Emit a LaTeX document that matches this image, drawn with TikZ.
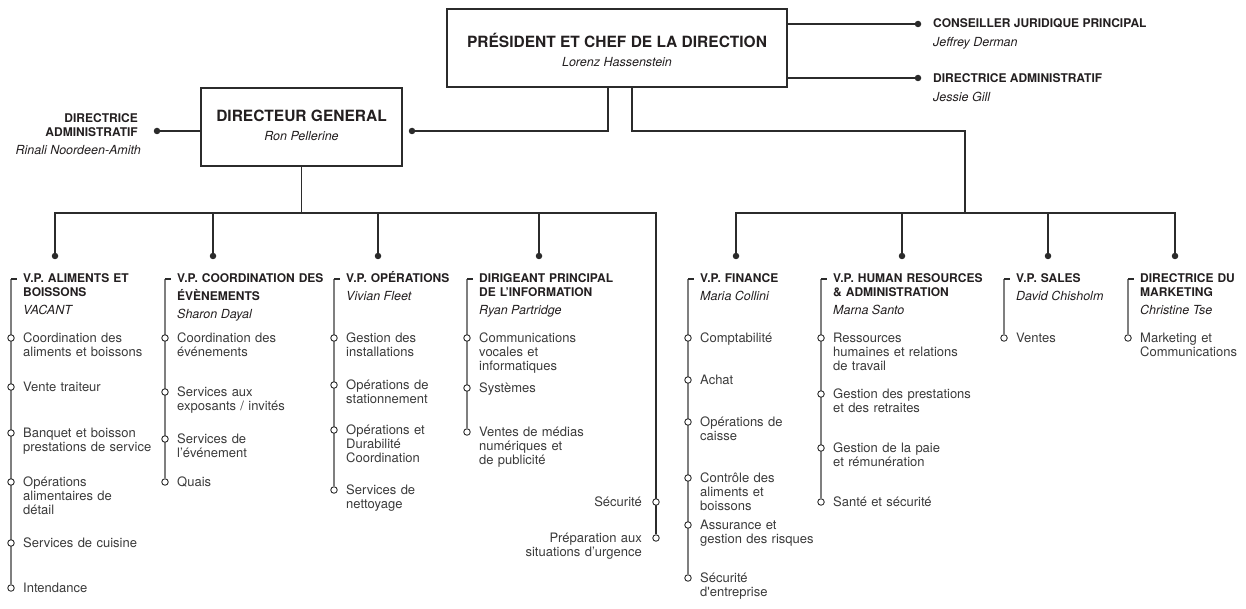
\documentclass[tikz,border=0pt]{standalone}
\usepackage{fontspec}
\setmainfont{TeX Gyre Heros}[Ligatures=TeXOff]
\usepackage{tikz}
\usetikzlibrary{positioning,backgrounds}

\definecolor{tratto}{HTML}{2B2B2B}
\definecolor{grigio}{HTML}{7F7F7F}
\definecolor{testo}{HTML}{231F20}
\definecolor{testovoce}{HTML}{3A3A3A}

\tikzset{
    riquadro/.style={draw=tratto, line width=1.3pt, minimum height=78pt, inner sep=0pt},
    titolo/.style={anchor=base, inner sep=0pt, text=testo, font=\bfseries\fontsize{15.5}{18}\selectfont},
    nomebox/.style={anchor=base, inner sep=0pt, text=testo, font=\itshape\fontsize{12.5}{14}\selectfont},
    etichetta/.style={inner sep=0pt, align=left, text=testo, font=\bfseries\fontsize{12}{14}\selectfont},
    nome/.style={inner sep=0pt, text=testo, font=\itshape\fontsize{12.5}{14}\selectfont},
    testata/.style={etichetta, text width=170pt, anchor=base west, xshift=12pt, yshift=-3.5pt},
    voce/.style={inner sep=0pt, text width=170pt, text=testovoce, font=\fontsize{13}{14}\selectfont},
    vocedx/.style={voce, align=left, anchor=base west, xshift=12pt, yshift=-4.5pt},
    vocesx/.style={voce, align=right, anchor=base east, xshift=-14pt, yshift=-4.5pt},
    punto/.style={circle, fill=tratto, minimum size=6.5pt, inner sep=0pt},
    anello/.style={circle, draw=tratto, fill=white, line width=0.9pt, minimum size=6.5pt, inner sep=0pt},
    connettore/.style={draw=tratto, line width=1.2pt},
    colonna/.style={draw=grigio, line width=1.3pt},
    tacca/.style={draw=tratto, line width=1.6pt}
}

\begin{document}
\begin{tikzpicture}[x=1pt, y=-1pt]
    \useasboundingbox (0,0) rectangle (1246,609);

    % vertice
    \node[riquadro, minimum width=340pt] (pres) at (617,48) {};
    \node[titolo] (presT) at (617,47.5) {PRÉSIDENT ET CHEF DE LA DIRECTION};
    \node[nomebox] (presN) at (617,66.5) {Lorenz Hassenstein};

    \node[punto] (jur) at (918,24) {};
    \node[etichetta, anchor=base west] (jurT) at (933,27.5) {CONSEILLER JURIDIQUE PRINCIPAL};
    \node[nome, below=19pt of jurT.base west, anchor=base west] (jurN) {Jeffrey Derman};
    \node[punto] (adm) at (918,78) {};
    \node[etichetta, anchor=base west] (admT) at (933,83) {DIRECTRICE ADMINISTRATIF};
    \node[nome, below=19pt of admT.base west, anchor=base west] (admN) {Jessie Gill};

    \node[riquadro, minimum width=201pt] (dg) at (301.5,127) {};
    \node[titolo] (dgT) at (301.5,121.5) {DIRECTEUR GENERAL};
    \node[nomebox] (dgN) at (301.5,140.5) {Ron Pellerine};

    \node[punto] (dgL) at (157,131) {};
    \node[punto] (dgR) at (412,131) {};
    \node[etichetta, text width=120pt, align=right, anchor=base east] (dgLT) at (138,122.5) {DIRECTRICE\\ADMINISTRATIF};
    \node[nome, anchor=base east] (dgLN) at (141,154.5) {Rinali Noordeen-Amith};

    \coordinate (p1) at ([xshift=-9pt]pres.south);
    \coordinate (p2) at ([xshift=15pt]pres.south);
    \coordinate (bL) at (656,213);
    \coordinate (bR) at (965,213);

    % punti sopra le colonne
    \node[punto] (d1) at (55,256) {};
    \node[punto] (d2) at (213,256) {};
    \node[punto] (d3) at (378,256) {};
    \node[punto] (d4) at (539,256) {};
    \node[punto] (d5) at (736,256) {};
    \node[punto] (d6) at (902,256) {};
    \node[punto] (d7) at (1048,256) {};
    \node[punto] (d8) at (1175,256) {};

    % aliments et boissons
    \coordinate (t1) at (11,279);
    \node[testata] (h1) at (t1) {V.P. ALIMENTS ET\\BOISSONS};
    \node[nome, below=18pt of h1.south west, anchor=base west] (n1) {VACANT};
    \node[anello] (r11) at (11,338) {};
    \node[vocedx] (v11) at (r11) {Coordination des\\aliments et boissons};
    \node[anello] (r12) at (11,387) {};
    \node[vocedx] (v12) at (r12) {Vente traiteur};
    \node[anello] (r13) at (11,433) {};
    \node[vocedx] (v13) at (r13) {Banquet et boisson\\prestations de service};
    \node[anello] (r14) at (11,482) {};
    \node[vocedx] (v14) at (r14) {Opérations\\alimentaires de\\détail};
    \node[anello] (r15) at (11,543) {};
    \node[vocedx] (v15) at (r15) {Services de cuisine};
    \node[anello] (r16) at (11,588) {};
    \node[vocedx] (v16) at (r16) {Intendance};

    % coordination des evenements
    \coordinate (t2) at (165,279);
    \node[testata] (h2) at (t2) {V.P. COORDINATION DES\\[4pt]ÉVÈNEMENTS};
    \node[nome, below=18pt of h2.south west, anchor=base west] (n2) {Sharon Dayal};
    \node[anello] (r21) at (165,338) {};
    \node[vocedx] (v21) at (r21) {Coordination des\\événements};
    \node[anello] (r22) at (165,392) {};
    \node[vocedx] (v22) at (r22) {Services aux\\exposants / invités};
    \node[anello] (r23) at (165,439) {};
    \node[vocedx] (v23) at (r23) {Services de\\l’événement};
    \node[anello] (r24) at (165,482) {};
    \node[vocedx] (v24) at (r24) {Quais};

    % operations
    \coordinate (t3) at (334,279);
    \node[testata] (h3) at (t3) {V.P. OPÉRATIONS};
    \node[nome, below=18pt of h3.south west, anchor=base west] (n3) {Vivian Fleet};
    \node[anello] (r31) at (334,338) {};
    \node[vocedx] (v31) at (r31) {Gestion des\\installations};
    \node[anello] (r32) at (334,385) {};
    \node[vocedx] (v32) at (r32) {Opérations de\\stationnement};
    \node[anello] (r33) at (334,430) {};
    \node[vocedx] (v33) at (r33) {Opérations et\\Durabilité\\Coordination};
    \node[anello] (r34) at (334,490) {};
    \node[vocedx] (v34) at (r34) {Services de\\nettoyage};

    % information
    \coordinate (t4) at (467,279);
    \node[testata] (h4) at (t4) {DIRIGEANT PRINCIPAL\\DE L’INFORMATION};
    \node[nome, below=18pt of h4.south west, anchor=base west] (n4) {Ryan Partridge};
    \node[anello] (r41) at (467,338) {};
    \node[vocedx] (v41) at (r41) {Communications\\vocales et\\informatiques};
    \node[anello] (r42) at (467,388) {};
    \node[vocedx] (v42) at (r42) {Systèmes};
    \node[anello] (r43) at (467,432) {};
    \node[vocedx] (v43) at (r43) {Ventes de médias\\numériques et\\de publicité};

    % securite
    \node[anello] (sec) at (656,502) {};
    \node[vocesx] (vsec) at (sec) {Sécurité};
    \node[anello] (prep) at (656,538) {};
    \node[vocesx] (vprep) at (prep) {Préparation aux\\situations d’urgence};

    % finance
    \coordinate (t5) at (688,279);
    \node[testata] (h5) at (t5) {V.P. FINANCE};
    \node[nome, below=18pt of h5.south west, anchor=base west] (n5) {Maria Collini};
    \node[anello] (r51) at (688,338) {};
    \node[vocedx] (v51) at (r51) {Comptabilité};
    \node[anello] (r52) at (688,380) {};
    \node[vocedx] (v52) at (r52) {Achat};
    \node[anello] (r53) at (688,422) {};
    \node[vocedx] (v53) at (r53) {Opérations de\\caisse};
    \node[anello] (r54) at (688,478) {};
    \node[vocedx] (v54) at (r54) {Contrôle des\\aliments et\\boissons};
    \node[anello] (r55) at (688,525) {};
    \node[vocedx] (v55) at (r55) {Assurance et\\gestion des risques};
    \node[anello] (r56) at (688,578) {};
    \node[vocedx] (v56) at (r56) {Sécurité\\d'entreprise};

    % ressources humaines
    \coordinate (t6) at (821,279);
    \node[testata] (h6) at (t6) {V.P. HUMAN RESOURCES\\\& ADMINISTRATION};
    \node[nome, below=18pt of h6.south west, anchor=base west] (n6) {Marna Santo};
    \node[anello] (r61) at (821,338) {};
    \node[vocedx] (v61) at (r61) {Ressources\\humaines et relations\\de travail};
    \node[anello] (r62) at (821,394) {};
    \node[vocedx] (v62) at (r62) {Gestion des prestations\\et des retraites};
    \node[anello] (r63) at (821,448) {};
    \node[vocedx] (v63) at (r63) {Gestion de la paie\\et rémunération};
    \node[anello] (r64) at (821,502) {};
    \node[vocedx] (v64) at (r64) {Santé et sécurité};

    % ventes
    \coordinate (t7) at (1004,279);
    \node[testata] (h7) at (t7) {V.P. SALES};
    \node[nome, below=18pt of h7.south west, anchor=base west] (n7) {David Chisholm};
    \node[anello] (r71) at (1004,338) {};
    \node[vocedx] (v71) at (r71) {Ventes};

    % marketing
    \coordinate (t8) at (1128,279);
    \node[testata] (h8) at (t8) {DIRECTRICE DU\\MARKETING};
    \node[nome, below=18pt of h8.south west, anchor=base west] (n8) {Christine Tse};
    \node[anello] (r81) at (1128,338) {};
    \node[vocedx] (v81) at (r81) {Marketing et\\Communications};

    \begin{pgfonlayer}{background}
        % collegamenti
        \draw[connettore] (jur -| pres.east) -- (jur);
        \draw[connettore] (adm -| pres.east) -- (adm);
        \draw[connettore] (dgL) -- (dgL -| dg.west);
        \draw[connettore] (p1) |- (dgR);
        \draw[connettore] (p2) |- (bR |- dgR) -- (bR);
        \draw[connettore] (dg.south) -- (dg.south |- bL);
        \draw[connettore] (d1) |- (bL) -- (prep);
        \draw[connettore] (d2) -- (d2 |- bL);
        \draw[connettore] (d3) -- (d3 |- bL);
        \draw[connettore] (d4) -- (d4 |- bL);
        \draw[connettore] (d5) |- (bR) -| (d8);
        \draw[connettore] (d6) -- (d6 |- bR);
        \draw[connettore] (d7) -- (d7 |- bR);

        % colonne
        \draw[colonna] (t1) -- (r16);
        \draw[colonna] (t2) -- (r24);
        \draw[colonna] (t3) -- (r34);
        \draw[colonna] (t4) -- (r43);
        \draw[colonna] (t5) -- (r56);
        \draw[colonna] (t6) -- (r64);
        \draw[colonna] (t7) -- (r71);
        \draw[colonna] (t8) -- (r81);
        \draw[tacca] (t1) -- ++(6,0);
        \draw[tacca] (t2) -- ++(6,0);
        \draw[tacca] (t3) -- ++(6,0);
        \draw[tacca] (t4) -- ++(6,0);
        \draw[tacca] (t5) -- ++(6,0);
        \draw[tacca] (t6) -- ++(6,0);
        \draw[tacca] (t7) -- ++(6,0);
        \draw[tacca] (t8) -- ++(6,0);
    \end{pgfonlayer}
\end{tikzpicture}
\end{document}
